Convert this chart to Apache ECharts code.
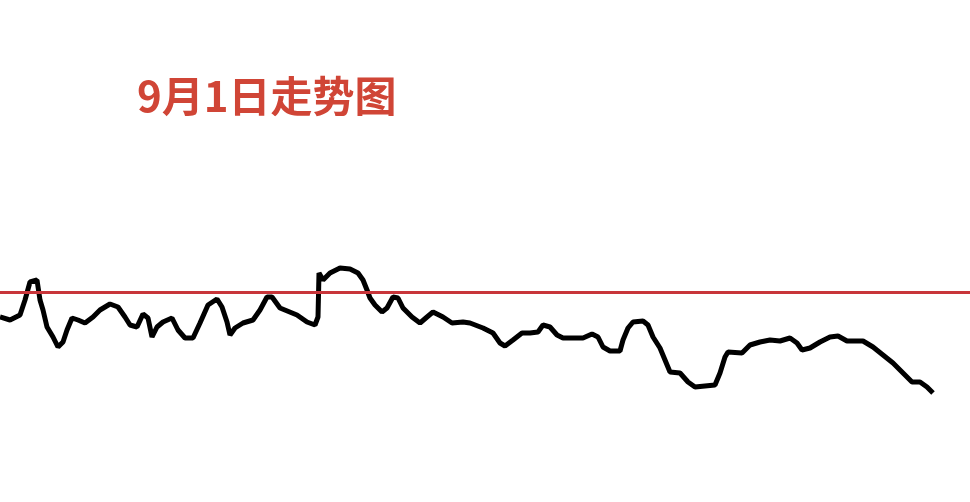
<!DOCTYPE html>
<html>
<head>
<meta charset="utf-8">
<script src="https://cdn.jsdelivr.net/npm/echarts@6/dist/echarts.min.js"></script>
<style>html,body{margin:0;padding:0;background:#fff;}#c{width:970px;height:502px;}</style>
</head>
<body>
<div id="c"></div>
<script>
var titleText = '9月1日走势图';
var minutes = [0,10,20,25,30,37,40,43,47,53,58,63,67,72,78,85,93,100,110,118,125,130,137,143,148,152,157,163,172,178,185,193,200,208,217,222,227,230,235,243,253,260,267,272,280,297,307,315,318,319,323,330,340,350,358,363,367,370,375,382,387,393,398,403,412,420,427,433,443,452,463,470,483,493,500,505,513,522,530,538,543,550,557,563,583,592,598,603,610,620,623,628,633,643,648,653,660,665,670,680,688,695,715,720,725,728,742,750,760,770,780,790,797,802,810,820,830,838,847,863,873,883,893,903,912,920,927,933];
var change = [-25,-28,-23,-8,10,12,-8,-18,-35,-45,-55,-50,-38,-26,-28,-31,-25,-18,-12,-15,-25,-33,-35,-22,-26,-45,-35,-30,-26,-38,-46,-46,-31,-13,-7,-15,-30,-43,-36,-31,-28,-18,-5,-5,-16,-23,-30,-33,-25,19,12,19,24,23,19,12,2,-6,-13,-20,-16,-5,-6,-16,-25,-31,-25,-20,-25,-31,-30,-31,-36,-41,-51,-54,-48,-41,-41,-40,-33,-35,-43,-46,-46,-42,-45,-55,-59,-59,-48,-36,-30,-29,-33,-45,-56,-68,-80,-81,-90,-95,-93,-81,-65,-60,-61,-53,-50,-48,-49,-46,-51,-58,-56,-50,-45,-44,-49,-49,-55,-63,-71,-81,-90,-90,-95,-101];
var prevClose = 0;

var pts = minutes.map(function(m, i){ return [m, change[i]]; });
var chart = echarts.init(document.getElementById('c'));
chart.setOption({
  backgroundColor: '#ffffff',
  animation: false,
  title: {
    text: titleText, left: 132, top: 70,
    textStyle: { color: '#d04536', fontSize: 42, fontWeight: 'bold', fontFamily: 'Noto Sans CJK SC' }
  },
  grid: { left: 0, right: 0, top: 0, bottom: 0 },
  xAxis: { type: 'value', min: 0, max: 970, show: false },
  yAxis: { type: 'value', min: -210, max: 292, show: false },
  series: [{
    type: 'line',
    data: pts,
    showSymbol: false,
    lineStyle: { color: '#000000', width: 5 },
    markLine: {
      silent: true, symbol: 'none',
      label: { show: false },
      lineStyle: { color: '#c8353a', width: 3, type: 'solid' },
      data: [{ yAxis: prevClose }]
    }
  }]
});
</script>
</body>
</html>
